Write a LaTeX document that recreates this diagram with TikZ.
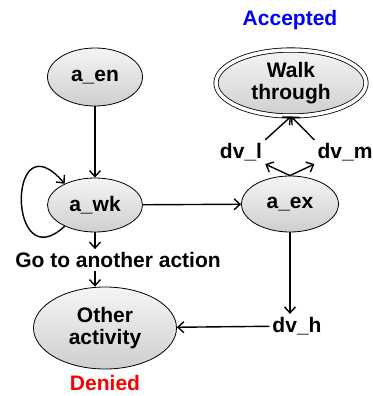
\documentclass[tikz,border=0pt]{standalone}
\usepackage{fontspec}
\setmainfont{Liberation Sans}
\usepackage{tikz}
\usetikzlibrary{shapes,arrows.meta}
\usepackage{xcolor}

\tikzset{
    state/.style={ellipse, draw, top color=gray!8, bottom color=gray!38, inner sep=0pt, align=center, line width=0.8pt},
    lbl/.style={inner sep=3pt},
    arr/.style={-{Straight Barb[length=6pt,width=11pt]}, line width=1.4pt},
}

\begin{document}
\begin{tikzpicture}[x=1pt, y=-1pt, font=\fontsize{21}{22}\selectfont\bfseries]
            \useasboundingbox (0,0) rectangle (372,396);
            \def\loopx{7}

            \node[state, minimum width=95pt, minimum height=58pt] (aen) at (95,77) {a\_en};
            \node[state, minimum width=95pt, minimum height=54pt] (awk) at (95,205) {a\_wk};
            \node[state, minimum width=97pt, minimum height=56pt] (aex) at (290,204) {a\_ex};
            \node[state, minimum width=150pt, minimum height=66pt, double, double distance=3.5pt] (walk) at (291,83) {Walk\\through};
            \node[state, minimum width=143pt, minimum height=82pt] (other) at (105,328) {Other\\activity};

            \node[lbl] (dvl) at (241,152) {dv\_l};
            \node[lbl] (dvm) at (345,152) {dv\_m};
            \node[lbl] (dvh) at (297,326) {dv\_h};
            \node[lbl] (go) at (118,260) {Go to another action};

            \node[text=blue] (acc) at (290,20) {Accepted};
            \node[text=red] (den) at (105,383) {Denied};

            \draw[arr] (aen) -- (awk);
            \draw[arr] (awk) -- (aex);
            \draw[arr] (aex.south) -- (aex.south |- dvh.north);
            \draw[arr] (dvh) -- (other);
            \draw[arr] (awk.south) -- (awk.south |- go.north);
            \draw[arr] (go.south -| awk.south) -- (other.north -| awk.south);
            \draw[arr] (aex.north) -- (dvl.south east);
            \draw[arr] (aex.north) -- (dvm.south west);
            \draw[arr] (dvl.north east) -- (walk.south);
            \draw[arr] (dvm.north west) -- (walk.south);
            \draw[arr] (awk.215) .. controls (\loopx,280) and (\loopx,116) .. (awk.145);
        \end{tikzpicture}
\end{document}
